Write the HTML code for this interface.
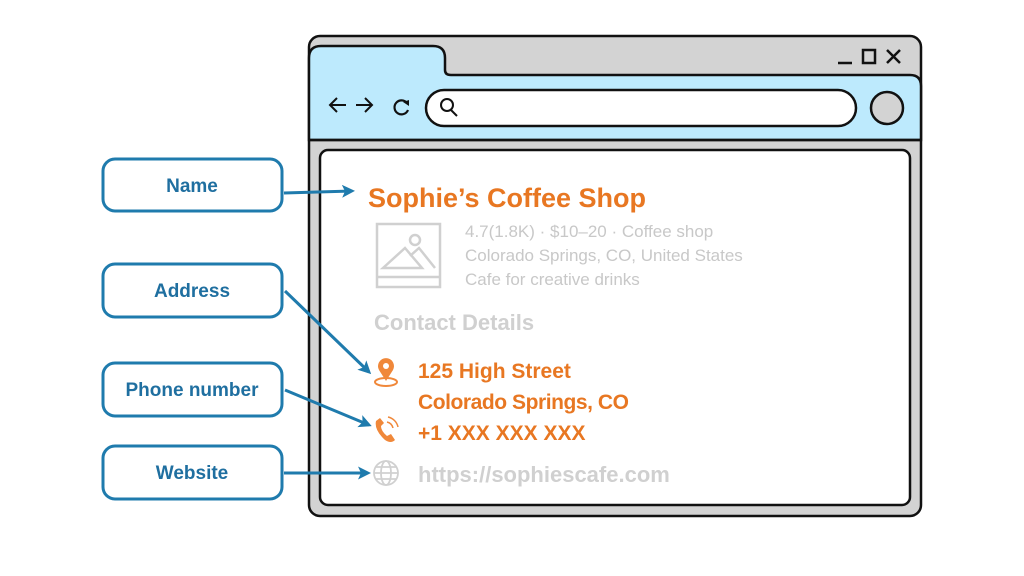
<!DOCTYPE html>
<html><head><meta charset="utf-8"><style>
html,body{margin:0;padding:0;background:#fff;}
svg{display:block;font-family:"Liberation Sans",sans-serif;}
</style></head><body>
<svg width="1024" height="576" viewBox="0 0 1024 576" xmlns="http://www.w3.org/2000/svg">
<defs>
<marker id="ah" markerWidth="13" markerHeight="13" refX="10" refY="6.5" orient="auto" markerUnits="userSpaceOnUse">
<path d="M0,0 L13,6.5 L0,13 L3,6.5 Z" fill="#1f7bad"/>
</marker>
</defs>
<rect x="309" y="36" width="612" height="480" rx="11" fill="#d3d3d3" stroke="#111" stroke-width="2.5"/>
<path d="M309,140 L309,58 Q309,46 321,46 L433,46 Q445,46 445,58 L445,70 Q445,75 451,75 L910,75 Q921,75 921,86 L921,140 Z" fill="#bdeafd" stroke="#111" stroke-width="2.5"/>
<line x1="309" y1="140" x2="921" y2="140" stroke="#111" stroke-width="2.5"/>
<rect x="320" y="150" width="590" height="355" rx="8" fill="#fff" stroke="#111" stroke-width="2.5"/>
<line x1="838" y1="63" x2="852" y2="63" stroke="#111" stroke-width="2.5"/>
<rect x="863" y="50" width="12" height="13" fill="none" stroke="#111" stroke-width="2.5"/>
<path d="M887,50 L900,63 M900,50 L887,63" stroke="#111" stroke-width="2.5"/>
<path d="M346,105 L330,105 M337,98 L330,105 L337,112" stroke="#111" stroke-width="2" fill="none"/>
<path d="M356,105 L372,105 M365,98 L372,105 L365,112" stroke="#111" stroke-width="2" fill="none"/>
<path d="M407,103 A7,7 0 1 0 408,110" stroke="#111" stroke-width="2.2" fill="none"/>
<path d="M403,102 L409,100 L409,106 Z" fill="#111"/>
<rect x="426" y="90" width="430" height="36" rx="18" fill="#fff" stroke="#111" stroke-width="2.5"/>
<circle cx="447" cy="105" r="6" fill="none" stroke="#111" stroke-width="2"/>
<line x1="451" y1="110" x2="457" y2="116" stroke="#111" stroke-width="2"/>
<circle cx="887" cy="108" r="16" fill="#d3d3d3" stroke="#111" stroke-width="2.5"/>
<text x="368" y="207" font-size="27" font-weight="bold" fill="#e87722">Sophie’s Coffee Shop</text>
<rect x="377" y="224" width="63" height="63" fill="none" stroke="#d0d0d0" stroke-width="2.5"/>
<line x1="377" y1="277" x2="440" y2="277" stroke="#d0d0d0" stroke-width="2.5"/>
<path d="M383,268 L405,248 L422,268 Z M410,256 L419,248 L435,268" fill="none" stroke="#d0d0d0" stroke-width="2.5"/>
<circle cx="415" cy="240" r="5" fill="none" stroke="#d0d0d0" stroke-width="2.5"/>
<g font-size="17" fill="#c8c8c8">
<text x="465" y="237">4.7(1.8K) · $10–20 · Coffee shop</text>
<text x="465" y="261">Colorado Springs, CO, United States</text>
<text x="465" y="285">Cafe for creative drinks</text>
</g>
<text x="374" y="330" font-size="22" font-weight="bold" fill="#d0d0d0">Contact Details</text>
<g font-size="21" font-weight="bold" fill="#e87722">
<text x="418" y="378">125 High Street</text>
<text x="418" y="409" textLength="211">Colorado Springs, CO</text>
<text x="418" y="440">+1 XXX XXX XXX</text>
</g>
<text x="418" y="482" font-size="22" font-weight="bold" fill="#d0d0d0">https://sophiescafe.com</text>
<path d="M386,381 L379,370 A8,8 0 1 1 393,370 Z" fill="#f0883a"/>
<circle cx="386" cy="366" r="3" fill="#fff"/>
<ellipse cx="386" cy="382" rx="11" ry="4" fill="none" stroke="#f0883a" stroke-width="2"/>
<path d="M376,421 Q374,430 385,440 Q391,444 395,440 L391,434 L387,436 Q381,431 381,426 L384,423 L380,418 Z" fill="#f0883a"/>
<path d="M387,422 A8,8 0 0 1 393,428 M388,417 A13,13 0 0 1 398,427" fill="none" stroke="#f0883a" stroke-width="1.5"/>
<g fill="none" stroke="#d0d0d0" stroke-width="1.8">
<circle cx="386" cy="473" r="12"/>
<ellipse cx="386" cy="473" rx="5" ry="12"/>
<line x1="374" y1="473" x2="398" y2="473"/>
<line x1="376" y1="467" x2="396" y2="467"/>
<line x1="376" y1="479" x2="396" y2="479"/>
</g>
<g fill="#fff" stroke="#1f7bad" stroke-width="3">
<rect x="103" y="159" width="179" height="52" rx="12"/>
<rect x="103" y="264" width="179" height="53" rx="12"/>
<rect x="103" y="363" width="179" height="53" rx="12"/>
<rect x="103" y="446" width="179" height="53" rx="12"/>
</g>
<g font-size="19" font-weight="bold" fill="#1f6fa0" text-anchor="middle">
<text x="192" y="192">Name</text>
<text x="192" y="297">Address</text>
<text x="192" y="396">Phone number</text>
<text x="192" y="479">Website</text>
</g>
<g stroke="#1f7bad" stroke-width="3" fill="none" marker-end="url(#ah)">
<line x1="284" y1="193" x2="352" y2="191"/>
<line x1="285" y1="291" x2="369" y2="372"/>
<line x1="285" y1="390" x2="369" y2="425"/>
<line x1="284" y1="473" x2="368" y2="473"/>
</g>
</svg>
</body></html>
